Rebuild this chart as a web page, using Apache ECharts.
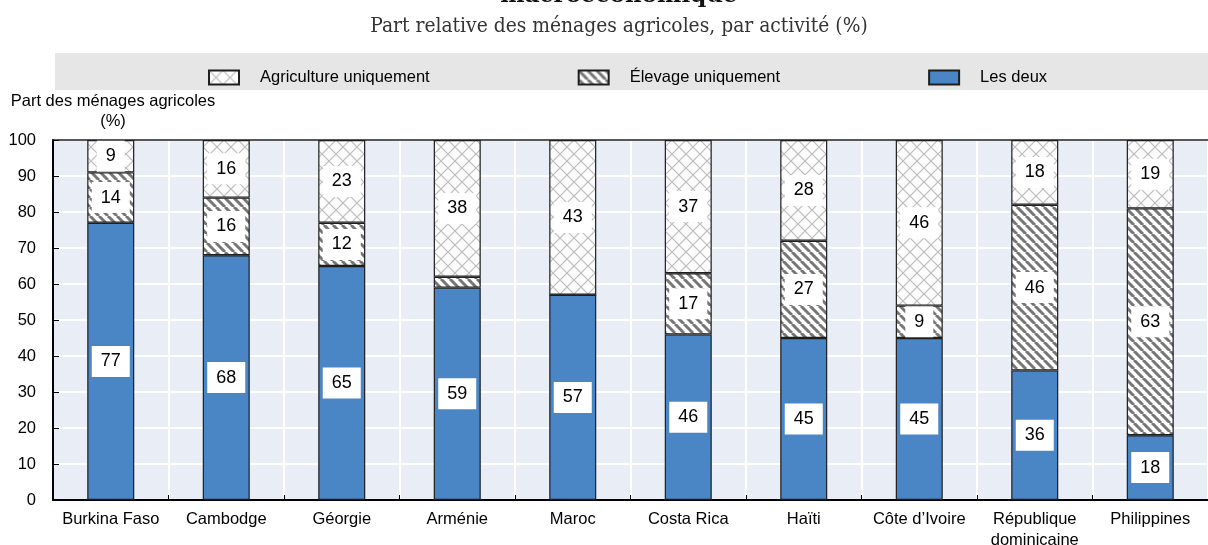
<!DOCTYPE html>
<html>
<head>
<meta charset="utf-8">
<script src="https://cdn.jsdelivr.net/npm/echarts@6/dist/echarts.min.js"></script>
<style>
    html, body { margin: 0; padding: 0; background: #fff; overflow: hidden; }
    #chart { width: 1208px; height: 545px; }
</style>
</head>
<body>
<div id="chart"></div>
<script>
    // categories + series values (%)
    const countries = ['Burkina Faso', 'Cambodge', 'Géorgie', 'Arménie', 'Maroc', 'Costa Rica', 'Haïti', 'Côte d\u2019Ivoire', 'République\ndominicaine', 'Philippines']
    const lesDeux = [77, 68, 65, 59, 57, 46, 45, 45, 36, 18]
    const elevage = [14, 16, 12, 3, 0, 17, 27, 9, 46, 63]
    const agriculture = [9, 16, 23, 38, 43, 37, 28, 46, 18, 19]
    const yTicks = [0, 10, 20, 30, 40, 50, 60, 70, 80, 90, 100]

    const font = 'Liberation Sans, Arial, sans-serif'

    // hachures
    function stripePattern() {
        let c = document.createElement('canvas')
        c.width = 9; c.height = 9
        let g = c.getContext('2d')
        g.fillStyle = '#ffffff'
        g.fillRect(0, 0, 9, 9)
        g.strokeStyle = '#767676'
        g.lineWidth = 3
        for (let x0 = -9; x0 <= 9; x0 += 9) {
            g.beginPath()
            g.moveTo(x0, 0)
            g.lineTo(x0 + 9, 9)
            g.stroke()
        }
        return c
    }
    function crossPattern() {
        let c = document.createElement('canvas')
        c.width = 14; c.height = 14
        let g = c.getContext('2d')
        g.fillStyle = '#fcfcfc'
        g.fillRect(0, 0, 14, 14)
        g.strokeStyle = '#bdbdbd'
        g.lineWidth = 1.2
        g.beginPath()
        g.moveTo(0, 0); g.lineTo(14, 14)
        g.moveTo(14, 0); g.lineTo(0, 14)
        g.stroke()
        return c
    }

    const labelStyle = {
        position: 'inside',
        color: '#000',
        fontFamily: font,
        fontSize: 18,
        backgroundColor: '#fff',
        padding: [7, 9, 6, 9]
    }
    function toData(arr) {
        return arr.map(v => ({ value: v, label: { show: v >= 5 } }))
    }
    function barSeries(name, arr, color) {
        return {
            name: name,
            type: 'bar',
            stack: 'total',
            barWidth: 47,
            itemStyle: { color: color, borderColor: '#1e1e1e', borderWidth: 1.2 },
            label: labelStyle,
            data: toData(arr)
        }
    }

    let myChart = echarts.init(document.getElementById('chart'))
    let options = {
        animation: false,
        backgroundColor: '#fff',
        title: [{
            text: 'macroéconomique',
            left: 614, textAlign: 'center',
            top: -20,
            textStyle: { fontFamily: 'DejaVu Serif', fontWeight: 'bold', fontSize: 23, color: '#111' }
        }, {
            text: 'Part relative des ménages agricoles, par activité (%)',
            left: 614, textAlign: 'center',
            top: 11,
            textStyle: { fontFamily: 'DejaVu Serif Condensed, DejaVu Serif, serif', fontWeight: 'normal', fontSize: 20.8, color: '#333' }
        }],
        graphic: [{
            type: 'rect',
            shape: { x: 55, y: 53, width: 1153, height: 37 },
            style: { fill: '#e6e6e6' },
            z: -1
        }, {
            type: 'text',
            x: 113, y: 111,
            style: {
                text: 'Part des ménages agricoles\n(%)',
                align: 'center', verticalAlign: 'middle',
                font: '16.5px ' + font, fill: '#000', lineHeight: 20
            }
        }],
        legend: {
            data: ['Agriculture uniquement', 'Élevage uniquement', 'Les deux'],
            left: 203, top: 64,
            icon: 'rect',
            itemWidth: 30, itemHeight: 14,
            itemGap: 148,
            textStyle: { fontFamily: font, fontSize: 16.5, color: '#000', padding: [0, 0, 0, 16] }
        },
        grid: {
            left: 53, right: 0, top: 140, bottom: 45,
            outerBoundsMode: 'none',
            containLabel: false,
            show: true, backgroundColor: '#e9edf6', borderWidth: 0
        },
        xAxis: [{
            type: 'category',
            data: countries,
            axisLine: { lineStyle: { color: '#000', width: 2 } },
            axisTick: { show: true, inside: true, length: 5, lineStyle: { color: '#000' } },
            axisLabel: { color: '#000', fontFamily: font, fontSize: 16.5, margin: 9, lineHeight: 21, interval: 0 },
            splitLine: { show: true, interval: 0, lineStyle: { color: '#fff', width: 2 } }
        }, {
            type: 'category',
            position: 'top',
            data: countries,
            axisLine: { show: true, lineStyle: { color: '#222', width: 1.5 } },
            axisTick: { show: false },
            axisLabel: { show: false }
        }],
        yAxis: {
            type: 'value',
            min: yTicks[0], max: yTicks[yTicks.length - 1], interval: 10,
            axisLine: { show: true, lineStyle: { color: '#000', width: 2 } },
            axisTick: { show: true, inside: true, length: 6, lineStyle: { color: '#000' } },
            axisLabel: { color: '#000', fontFamily: font, fontSize: 16.5, margin: 17 },
            splitLine: { lineStyle: { color: '#fff', width: 2 } }
        },
        series: [
            barSeries('Les deux', lesDeux, '#4a86c6'),
            barSeries('Élevage uniquement', elevage, { image: stripePattern(), repeat: 'repeat' }),
            barSeries('Agriculture uniquement', agriculture, { image: crossPattern(), repeat: 'repeat' })
        ]
    }
    myChart.setOption(options)
</script>
</body>
</html>
